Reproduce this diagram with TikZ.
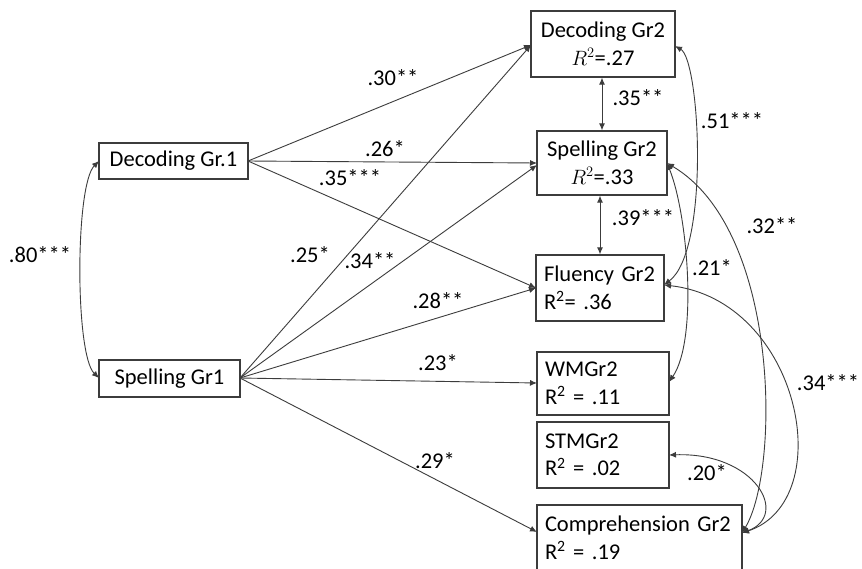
\documentclass[tikz,border=0pt]{standalone}
\usepackage{fontspec}
\setmainfont{Carlito}
\usetikzlibrary{arrows.meta}
\definecolor{ln}{RGB}{60,60,60}
\begin{document}
\begin{tikzpicture}[x=1pt,y=-1pt,
  every node/.style={font=\fontsize{22.5}{27.5}\selectfont},
  box/.style={draw=ln,line width=1.3pt,inner sep=0pt,inner xsep=8pt,align=left},
  cbox/.style={draw=ln,line width=1.3pt,inner sep=0pt,align=center},
  arr/.style={draw=ln,line width=0.9pt,-{Latex[length=7pt,width=6pt]}},
  darr/.style={draw=ln,line width=0.9pt,{Latex[length=7pt,width=6pt]}-{Latex[length=7pt,width=6pt]}},
  lab/.style={inner sep=0pt}]
\clip (0,0) rectangle (862,568);
\fill[white] (0,0) rectangle (862,568);
% boxes
\node[cbox,minimum width=144pt,minimum height=66pt] (dec2) at (603,44) {Decoding~Gr2\\$R^2$=.27};
\node[cbox,minimum width=130pt,minimum height=64pt] (spe2) at (602,163) {Spelling~Gr2\\$R^2$=.33};
\node[box,text width=112pt,minimum height=66pt] (flu2) at (600,288) {Fluency~Gr2\\R\textsuperscript{2}=~.36};
\node[box,text width=116pt,minimum height=63pt] (wm2) at (603,383.5) {WMGr2\\R\textsuperscript{2}~=~.11};
\node[box,text width=189pt,minimum height=66pt] (comp2) at (639.5,538) {Comprehension~Gr2\\R\textsuperscript{2}~=~.19};
\node[box,text width=116pt,minimum height=66pt] (stm2) at (603,455) {STMGr2\\R\textsuperscript{2}~=~.02};
\node[cbox,minimum width=149pt,minimum height=36pt] (dg1) at (173.5,161) {Decoding Gr.1};
\node[cbox,minimum width=141pt,minimum height=37pt] (sg1) at (169.5,378.5) {Spelling Gr1};
% anchor coordinates
\coordinate (d1e) at (248,161);
\coordinate (s1e) at (240,378);
\coordinate (d2w) at (531,45);
\coordinate (s2wa) at (537,163);
\coordinate (s2wb) at (537,165);
\coordinate (f2w) at (536,288);
\coordinate (w2w) at (537,383);
\coordinate (c2w) at (537,532);
\coordinate (d2e) at (675,46);
\coordinate (s2e) at (667,163);
\coordinate (f2e) at (664,285);
\coordinate (w2e) at (669,382);
\coordinate (st2e) at (669,455);
\coordinate (c2e) at (742,533);
\coordinate (d1w) at (99,161);
\coordinate (s1w) at (99,378);
% paths from Gr1
\draw[arr] (d1e) -- (d2w);
\draw[arr] (d1e) -- (s2wa);
\draw[arr] (d1e) -- (f2w);
\draw[arr] (s1e) -- (d2w);
\draw[arr] (s1e) -- (s2wb);
\draw[arr] (s1e) -- (f2w);
\draw[arr] (s1e) -- (w2w);
\draw[arr] (s1e) -- (c2w);
% covariances
\draw[darr] (d1w) .. controls (75,185) and (75,355) .. (s1w);
\draw[darr] (dec2.south -| 602,0) -- (spe2.north -| 602,0);
\draw[darr] (spe2.south -| 600,0) -- (flu2.north -| 600,0);
\draw[darr] (d2e) .. controls (700,60) and (710,250) .. (f2e);
\draw[darr] (s2e) .. controls (688,215) and (698,340) .. (w2e);
\draw[darr] (s2e) .. controls (780,230) and (780,470) .. (c2e);
\draw[darr] (f2e) .. controls (800,300) and (840,500) .. (c2e);
\draw[darr] (st2e) .. controls (755,452) and (790,515) .. (c2e);
% labels
\node[lab] (l30) at (393,78) {.30**};
\node[lab] (l26) at (385,149) {.26*};
\node[lab] (l35a) at (350,178) {.35***};
\node[lab] (l25) at (310,255) {.25*};
\node[lab] (l34a) at (370,261) {.34**};
\node[lab] (l28) at (438,301) {.28**};
\node[lab] (l23) at (438,363) {.23*};
\node[lab] (l29) at (435,461) {.29*};
\node[lab] (l80) at (40,255) {.80***};
\node[lab] (l35b) at (638,98) {.35**};
\node[lab] (l51) at (732,121) {.51***};
\node[lab] (l39) at (643,218) {.39***};
\node[lab] (l21) at (712,268) {.21*};
\node[lab] (l32) at (772,226) {.32**};
\node[lab] (l34b) at (828,383) {.34***};
\node[lab] (l20) at (707,473) {.20*};
\end{tikzpicture}
\end{document}
